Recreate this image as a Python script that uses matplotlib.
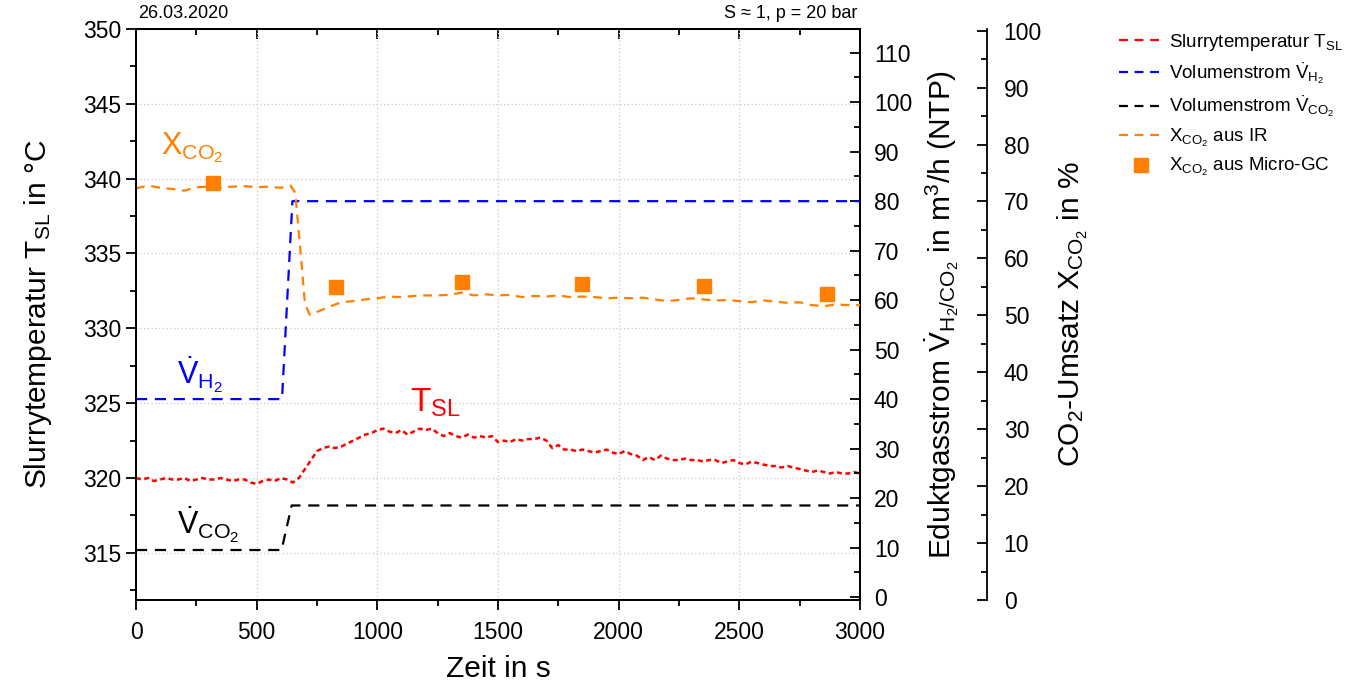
import matplotlib
matplotlib.use("Agg")
import matplotlib.pyplot as plt
from matplotlib.ticker import MultipleLocator
from matplotlib.lines import Line2D
import numpy as np

plt.rcParams['font.family'] = ['Liberation Sans', 'DejaVu Sans']
plt.rcParams['mathtext.fontset'] = 'custom'
plt.rcParams['mathtext.rm'] = 'Liberation Sans'
plt.rcParams['mathtext.it'] = 'Liberation Sans:italic'
plt.rcParams['mathtext.bf'] = 'Liberation Sans:bold'
plt.rcParams['mathtext.default'] = 'regular'

# ---------------- data ----------------
t_temp = list(range(0, 3001, 25))
temp_sl = [320.0, 319.9, 320.0, 319.8, 319.9, 320.0, 319.9, 319.9, 320.0, 319.8,
           319.9, 320.0, 319.9, 319.9, 320.0, 319.9, 319.8, 319.9, 319.9, 319.7,
           319.6, 319.8, 319.9, 319.8, 320.0, 319.9, 319.7, 320.0, 320.6, 321.2,
           321.8, 322.0, 322.1, 322.0, 322.1, 322.3, 322.5, 322.7, 322.9, 323.0,
           323.2, 323.3, 323.1, 323.0, 323.2, 322.9, 323.1, 323.3, 323.2, 323.3,
           323.0, 322.8, 323.0, 322.8, 322.7, 322.9, 322.7, 322.8, 322.7, 322.8,
           322.4, 322.5, 322.4, 322.6, 322.5, 322.6, 322.6, 322.7, 322.5, 322.0,
           322.2, 321.9, 321.9, 321.8, 321.9, 321.8, 321.7, 321.8, 321.9, 321.7,
           321.6, 321.8, 321.6, 321.5, 321.2, 321.4, 321.2, 321.5, 321.3, 321.2,
           321.2, 321.3, 321.2, 321.2, 321.1, 321.2, 321.2, 321.0, 321.1, 321.2,
           321.0, 320.9, 321.1, 321.0, 320.9, 320.8, 320.8, 320.7, 320.8, 320.7,
           320.6, 320.5, 320.4, 320.5, 320.4, 320.3, 320.4, 320.3, 320.3, 320.4,
           320.3]

t_h2 = [0, 605, 648, 3000]
flow_h2 = [40, 40, 80, 80]

t_co2 = [0, 603, 645, 3000]
flow_co2 = [9.5, 9.5, 18.5, 18.5]

t_ir = [0, 50, 100, 150, 200, 250, 300, 350, 400, 450, 500, 550, 600, 640, 660,
        680, 700, 720, 750, 800, 850, 900, 950, 1000, 1050, 1100, 1150, 1200,
        1250, 1300, 1350, 1400, 1450, 1500, 1550, 1600, 1650, 1700, 1750, 1800,
        1850, 1900, 1950, 2000, 2050, 2100, 2150, 2200, 2250, 2300, 2350, 2400,
        2450, 2500, 2550, 2600, 2650, 2700, 2750, 2800, 2850, 2900, 2950, 3000]
x_ir = [72.3, 72.8, 72.4, 72.2, 71.9, 72.5, 72.6, 72.5, 72.6, 72.7, 72.5, 72.6,
        72.4, 72.8, 71.5, 62.0, 52.0, 50.1, 50.6, 51.5, 52.3, 52.5, 52.8, 53.0,
        53.3, 53.2, 53.4, 53.5, 53.5, 53.6, 54.0, 53.5, 53.7, 53.5, 53.6, 53.2,
        53.4, 53.3, 53.5, 53.2, 53.3, 53.2, 53.0, 53.1, 53.0, 53.1, 52.8, 52.5,
        52.7, 53.0, 52.8, 52.6, 52.7, 52.5, 52.3, 52.6, 52.4, 52.2, 52.3, 51.8,
        51.6, 51.9, 51.8, 51.8]

t_gc = [319, 829, 1351, 1848, 2354, 2864]
x_gc = [73.3, 55.0, 55.9, 55.5, 55.2, 53.8]

x_ticks = [0, 500, 1000, 1500, 2000, 2500, 3000]

RED = '#ff0000'
BLUE = '#0000ff'
BLACK = '#000000'
ORANGE = '#ff7f00'

TICK_FS = 16.5
LABEL_FS = 21.5

# ---------------- figure ----------------
fig = plt.figure(figsize=(13.52, 6.85), dpi=100)
ax = fig.add_axes([0.1006, 0.1241, 0.5355, 0.8336])
ax2 = ax.twinx()
ax3 = ax.twinx()
ax3.spines['right'].set_position(('axes', 1.1754))

for a in (ax, ax2, ax3):
    for s in a.spines.values():
        s.set_linewidth(1.3)

# grid
ax.grid(True, which='major', linestyle=(0, (1, 2)), color='#c8c8c8', linewidth=0.9)
ax.set_axisbelow(True)

# lines
ax.plot(t_temp, temp_sl, color=RED, lw=1.8, dashes=(2.0, 1.4), zorder=3)
ax2.plot(t_h2, flow_h2, color=BLUE, lw=1.6, dashes=(5, 3.5))
ax2.plot(t_co2, flow_co2, color=BLACK, lw=1.6, dashes=(5, 3.5))
ax3.plot(t_ir, x_ir, color=ORANGE, lw=1.6, dashes=(4, 3))
ax3.plot(t_gc, x_gc, linestyle='none', marker='s', markersize=10, color=ORANGE)

# limits
ax.set_xlim(0, 3000)
ax.set_ylim(311.85, 350)
ax2.set_ylim(-0.6, 114.8)
ax3.set_ylim(0.0, 100.3)

# ticks
ax.set_xticks(x_ticks)
ax.xaxis.set_minor_locator(MultipleLocator(250))
ax.yaxis.set_major_locator(MultipleLocator(5))
ax.yaxis.set_minor_locator(MultipleLocator(2.5))
ax.set_yticks([315, 320, 325, 330, 335, 340, 345, 350])
ax.tick_params(axis='both', which='major', direction='out', length=7, width=1.3,
               labelsize=TICK_FS)
ax.tick_params(axis='both', which='minor', direction='out', length=4, width=1.3)
ax.tick_params(axis='x', which='major', pad=8)

secx = ax.secondary_xaxis('top')
secx.set_xticks(x_ticks)
secx.xaxis.set_minor_locator(MultipleLocator(250))
secx.tick_params(which='major', direction='in', length=7, width=1.3, labeltop=False)
secx.tick_params(which='minor', direction='in', length=4, width=1.3)
secx.spines['top'].set_linewidth(1.3)

ax2.set_yticks(list(range(0, 111, 10)))
ax2.yaxis.set_minor_locator(MultipleLocator(5))
ax2.tick_params(axis='y', which='major', direction='in', length=7, width=1.3,
                labelsize=TICK_FS, pad=10)
ax2.tick_params(axis='y', which='minor', direction='in', length=4, width=1.3)

ax3.set_yticks(list(range(0, 101, 10)))
ax3.yaxis.set_minor_locator(MultipleLocator(5))
ax3.tick_params(axis='y', which='major', direction='in', length=7, width=1.3,
                labelsize=TICK_FS, pad=12)
ax3.tick_params(axis='y', which='minor', direction='in', length=4, width=1.3)

# labels
ax.set_xlabel('Zeit in s', fontsize=LABEL_FS, labelpad=8)
ax.set_ylabel(r'Slurrytemperatur T$_{SL}$ in °C', fontsize=LABEL_FS, labelpad=21)
ax2.set_ylabel(r'Eduktgasstrom $\dot{V}_{H_2/CO_2}$ in m$^3$/h (NTP)',
               fontsize=LABEL_FS, labelpad=8)
ax3.set_ylabel(r'CO$_2$-Umsatz X$_{CO_2}$ in %', fontsize=LABEL_FS, labelpad=10)

# top texts
ax.text(0.003, 1.012, '26.03.2020', transform=ax.transAxes, fontsize=13,
        ha='left', va='bottom')
ax.text(0.997, 1.012, 'S ≈ 1, p = 20 bar', transform=ax.transAxes, fontsize=13,
        ha='right', va='bottom')

# in-plot annotations
ax.text(232, 342.1, r'X$_{CO_2}$', color=ORANGE, fontsize=22, ha='center', va='center')
ax.text(265, 326.9, r'$\dot{V}_{H_2}$', color=BLUE, fontsize=22, ha='center', va='center')
ax.text(1240, 325.0, r'T$_{SL}$', color=RED, fontsize=24, ha='center', va='center')
ax.text(300, 316.9, r'$\dot{V}_{CO_2}$', color=BLACK, fontsize=22, ha='center', va='center')

# legend
handles = [
    Line2D([], [], color=RED, lw=1.6, dashes=(4, 3)),
    Line2D([], [], color=BLUE, lw=1.6, dashes=(4, 3)),
    Line2D([], [], color=BLACK, lw=1.6, dashes=(4, 3)),
    Line2D([], [], color=ORANGE, lw=1.6, dashes=(4, 3)),
    Line2D([], [], linestyle='none', marker='s', markersize=10, color=ORANGE),
]
labels = [
    r'Slurrytemperatur T$_{SL}$',
    r'Volumenstrom $\dot{V}_{H_2}$',
    r'Volumenstrom $\dot{V}_{CO_2}$',
    r'X$_{CO_2}$ aus IR',
    r'X$_{CO_2}$ aus Micro-GC',
]
fig.legend(handles, labels, loc='upper left', bbox_to_anchor=(0.815, 0.978),
           frameon=False, fontsize=13.5, handlelength=2.4, handletextpad=0.3,
           labelspacing=0.4)

fig.savefig('out.png', dpi=100)
